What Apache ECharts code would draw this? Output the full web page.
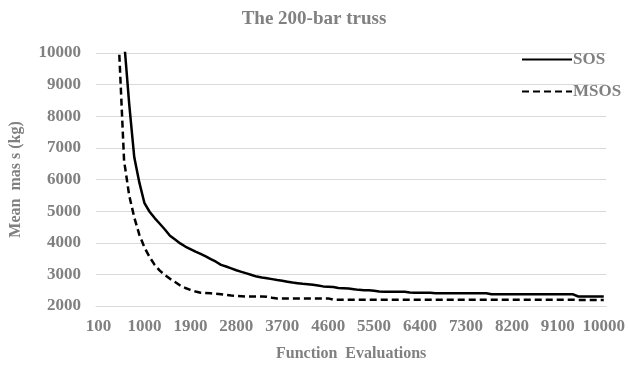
<!DOCTYPE html>
<html>
<head>
<meta charset="utf-8">
<script src="https://cdn.jsdelivr.net/npm/echarts@6/dist/echarts.min.js"></script>
<style>
  html, body { margin: 0; padding: 0; background: #fff; }
  #chart { width: 628px; height: 368px; }
</style>
</head>
<body>
<div id="chart"></div>
<script>
// function evaluations 100..10000, step 100
const evaluations = [];
for (let fe = 100; fe <= 10000; fe += 100) evaluations.push(String(fe));

// mean mass (kg), values above 10000 run off the top of the plot
const sosMass = [
  25000, 19000, 15500, 13000, 11500, 10400, 8400, 6700, 5900, 5250,
  4980, 4780, 4600, 4420, 4220, 4100, 3980, 3880, 3800, 3720,
  3650, 3570, 3480, 3400, 3300, 3250, 3190, 3130, 3080, 3030,
  2980, 2930, 2900, 2880, 2850, 2820, 2800, 2770, 2740, 2720,
  2700, 2690, 2670, 2650, 2620, 2610, 2600, 2570, 2560, 2550,
  2530, 2510, 2500, 2500, 2480, 2460, 2450, 2450, 2450, 2450,
  2450, 2430, 2420, 2420, 2420, 2420, 2400, 2400, 2400, 2400,
  2400, 2400, 2400, 2400, 2400, 2400, 2400, 2370, 2370, 2370,
  2370, 2370, 2370, 2370, 2370, 2370, 2370, 2370, 2370, 2370,
  2370, 2370, 2370, 2370, 2300, 2300, 2300, 2300, 2300, 2300
];
const msosMass = [
  20000, 15000, 12500, 11000, 10200, 6600, 5500, 4800, 4250, 3850,
  3550, 3300, 3120, 2980, 2860, 2760, 2650, 2570, 2510, 2460,
  2420, 2410, 2400, 2390, 2370, 2350, 2330, 2320, 2310, 2300,
  2300, 2300, 2300, 2290, 2260, 2240, 2240, 2240, 2240, 2240,
  2240, 2240, 2240, 2240, 2240, 2240, 2200, 2200, 2200, 2200,
  2200, 2200, 2200, 2200, 2200, 2200, 2200, 2200, 2200, 2200,
  2200, 2200, 2200, 2200, 2200, 2200, 2200, 2200, 2200, 2200,
  2200, 2200, 2200, 2200, 2200, 2200, 2200, 2200, 2200, 2200,
  2200, 2200, 2200, 2200, 2200, 2200, 2200, 2200, 2200, 2200,
  2200, 2200, 2200, 2200, 2190, 2190, 2190, 2190, 2190, 2190
];

const FONT = '"Liberation Serif", "Times New Roman", serif';
const GREY = '#808080';

const chart = echarts.init(document.getElementById('chart'));
chart.setOption({
  animation: false,
  title: {
    text: 'The 200-bar truss',
    left: 'center',
    top: 5,
    textStyle: { fontFamily: FONT, fontSize: 19, fontWeight: 'bold', color: GREY },
  },
  legend: {
    orient: 'vertical',
    left: 516,
    top: 46,
    itemWidth: 50,
    itemHeight: 14,
    itemGap: 15,
    itemStyle: { opacity: 0 },
    textStyle: { fontFamily: FONT, fontSize: 17, fontWeight: 'bold', color: GREY, padding: [0, 0, 0, -4] },
  },
  grid: { left: 95, right: 21, top: 53, bottom: 62 },
  xAxis: {
    type: 'category',
    data: evaluations,
    boundaryGap: true,
    name: 'Function  Evaluations',
    nameLocation: 'middle',
    nameGap: 40,
    nameTextStyle: { fontFamily: FONT, fontSize: 16, fontWeight: 'bold', color: GREY },
    axisLine: { lineStyle: { color: '#d9d9d9', width: 1 } },
    axisTick: { show: false },
    axisLabel: { interval: 8, margin: 12, fontFamily: FONT, fontSize: 17, fontWeight: 'bold', color: GREY },
  },
  yAxis: {
    type: 'value',
    min: 2000,
    max: 10000,
    interval: 1000,
    name: 'Mean  mas s (kg)',
    nameLocation: 'middle',
    nameGap: 72,
    nameTextStyle: { fontFamily: FONT, fontSize: 16, fontWeight: 'bold', color: GREY },
    axisLine: { show: false },
    axisTick: { show: false },
    splitLine: { lineStyle: { color: '#d9d9d9', width: 1 } },
    axisLabel: { margin: 15, fontFamily: FONT, fontSize: 17, fontWeight: 'bold', color: GREY, formatter: (v) => String(v) },
  },
  series: [
    {
      name: 'SOS',
      type: 'line',
      data: sosMass,
      symbol: 'none',
      clip: true,
      lineStyle: { color: '#000', width: 2.5, type: 'solid' },
      itemStyle: { color: '#000' },
    },
    {
      name: 'MSOS',
      type: 'line',
      data: msosMass,
      symbol: 'none',
      clip: true,
      lineStyle: { color: '#000', width: 2.5, type: [7, 4] },
      itemStyle: { color: '#000' },
    },
  ],
});
</script>
</body>
</html>
